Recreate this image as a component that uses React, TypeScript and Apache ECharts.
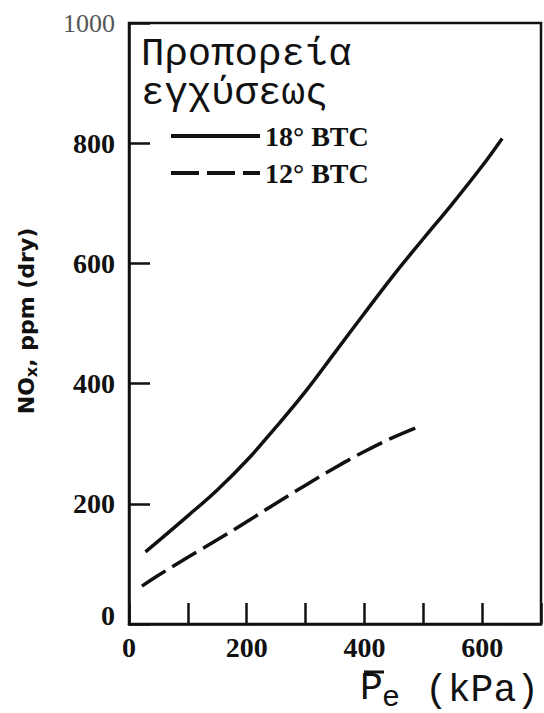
import React, { useEffect, useRef } from "react";
import * as echarts from "echarts";

// ---- data ----
const seriesNames = ["18° BTC", "12° BTC"];
const solidX = [28, 100, 150, 200, 250, 300, 350, 400, 450, 500, 550, 600, 634];
const solidY = [120, 180, 223, 272, 328, 387, 452, 517, 581, 641, 700, 762, 808];
const dashedX = [22, 50, 100, 150, 200, 250, 300, 350, 400, 450, 499];
const dashedY = [63, 81, 111, 140, 170, 201, 231, 260, 287, 311, 331];
const xTicks = { min: 0, max: 700, interval: 100 };
const yTicks = { min: 0, max: 1000, interval: 200 };
const legendTitle = ["Προπορεία", "εγχύσεως"];
const yName = ["NO", "x", ", ppm (dry)"];
const xName = ["P", "e", "(kPa)"];

const INK = "#111";

export default function App() {
  const ref = useRef<HTMLDivElement>(null);
  useEffect(() => {
    document.body.style.margin = "0";
    if (!ref.current) return;
    const chart = echarts.init(ref.current, null, { renderer: "svg" });
    const solid = solidX.map((x, i) => [x, solidY[i]]);
    const dashed = dashedX.map((x, i) => [x, dashedY[i]]);
    chart.setOption({
      animation: false,
      backgroundColor: "#fff",
      title: {
        text: legendTitle[0],
        subtext: legendTitle[1],
        left: 141,
        top: 36,
        padding: 0,
        itemGap: 0,
        textStyle: {
          fontFamily: "Liberation Mono",
          fontSize: 39,
          lineHeight: 38,
          fontWeight: "normal",
          color: INK,
        },
        subtextStyle: {
          fontFamily: "Liberation Mono",
          fontSize: 39,
          lineHeight: 38,
          fontWeight: "normal",
          color: INK,
        },
      },
      legend: {
        orient: "vertical",
        left: 169,
        top: 122,
        padding: 0,
        itemWidth: 89,
        itemHeight: 14,
        itemGap: 9,
        itemTextGap: 16,
        data: seriesNames,
        itemStyle: { opacity: 0, borderWidth: 0 },
        lineStyle: { width: 4 },
        textStyle: {
          fontFamily: "Liberation Serif",
          fontWeight: "bold",
          fontSize: 28,
          color: INK,
        },
      },
      grid: {
        left: 129,
        right: 1.5,
        top: 23,
        bottom: 89,
        show: true,
        borderColor: INK,
        borderWidth: 2.5,
        containLabel: false,
      },
      xAxis: {
        type: "value",
        min: xTicks.min,
        max: xTicks.max,
        interval: xTicks.interval,
        splitLine: { show: false },
        axisLine: { show: true, lineStyle: { color: INK, width: 2.5 } },
        axisTick: {
          show: true,
          inside: true,
          length: 21,
          lineStyle: { color: INK, width: 2.5 },
        },
        axisLabel: {
          margin: 9,
          color: INK,
          fontFamily: "Liberation Serif",
          fontWeight: "bold",
          fontSize: 28,
          formatter: (v: number) => (v % 200 === 0 && v < 700 ? String(v) : ""),
        },
      },
      yAxis: {
        type: "value",
        min: yTicks.min,
        max: yTicks.max,
        interval: yTicks.interval,
        splitLine: { show: false },
        axisLine: { show: true, lineStyle: { color: INK, width: 2.5 } },
        axisTick: {
          show: true,
          inside: true,
          length: 21,
          lineStyle: { color: INK, width: 2.5 },
        },
        axisLabel: {
          margin: 14,
          color: INK,
          fontFamily: "Liberation Serif",
          fontWeight: "bold",
          fontSize: 28,
          formatter: (v: number) =>
            v === 1000 ? "{t|1000}" : v === 0 ? "{z|0}" : String(v),
          rich: {
            t: {
              fontFamily: "Liberation Serif",
              fontWeight: "normal",
              fontSize: 26,
              color: "#555",
            },
            z: {
              fontFamily: "Liberation Serif",
              fontWeight: "bold",
              fontSize: 28,
              color: INK,
              padding: [0, 0, 18, 0],
            },
          },
        },
      },
      series: [
        {
          name: seriesNames[0],
          type: "line",
          data: solid,
          symbol: "none",
          showSymbol: false,
          smooth: 0.4,
          lineStyle: { color: INK, width: 3.5, type: "solid" },
          itemStyle: { color: INK },
        },
        {
          name: seriesNames[1],
          type: "line",
          data: dashed,
          symbol: "none",
          showSymbol: false,
          smooth: 0.4,
          lineStyle: { color: INK, width: 3.5, type: [28, 8] },
          itemStyle: { color: INK },
        },
      ],
      graphic: [
        {
          type: "text",
          x: 26,
          y: 321,
          rotation: Math.PI / 2,
          style: {
            text: `{n|${yName[0]}}{s|${yName[1]}}{n|${yName[2]}}`,
            align: "center",
            verticalAlign: "middle",
            fill: INK,
            rich: {
              n: {
                fontFamily: "DejaVu Sans",
                fontWeight: "bold",
                fontSize: 22,
                fill: INK,
              },
              s: {
                fontFamily: "DejaVu Sans",
                fontWeight: "bold",
                fontSize: 16,
                fill: INK,
                padding: [10, 0, 0, 0],
              },
            },
          },
        },
        {
          type: "text",
          x: 360,
          y: 688,
          style: {
            text: xName[0],
            fontFamily: "Liberation Mono",
            fontSize: 38,
            fill: INK,
            align: "left",
            verticalAlign: "middle",
          },
        },
        {
          type: "line",
          shape: { x1: 364, y1: 672, x2: 384, y2: 672 },
          style: { stroke: INK, lineWidth: 3 },
        },
        {
          type: "text",
          x: 382,
          y: 698,
          style: {
            text: xName[1],
            fontFamily: "Liberation Mono",
            fontSize: 30,
            fill: INK,
            align: "left",
            verticalAlign: "middle",
          },
        },
        {
          type: "text",
          x: 425,
          y: 690,
          style: {
            text: xName[2],
            fontFamily: "Liberation Mono",
            fontSize: 38,
            fill: INK,
            align: "left",
            verticalAlign: "middle",
          },
        },
      ],
    });
    return () => chart.dispose();
  }, []);
  return (
    <div
      ref={ref}
      style={{ position: "fixed", left: 0, top: 0, width: 544, height: 713 }}
    />
  );
}
